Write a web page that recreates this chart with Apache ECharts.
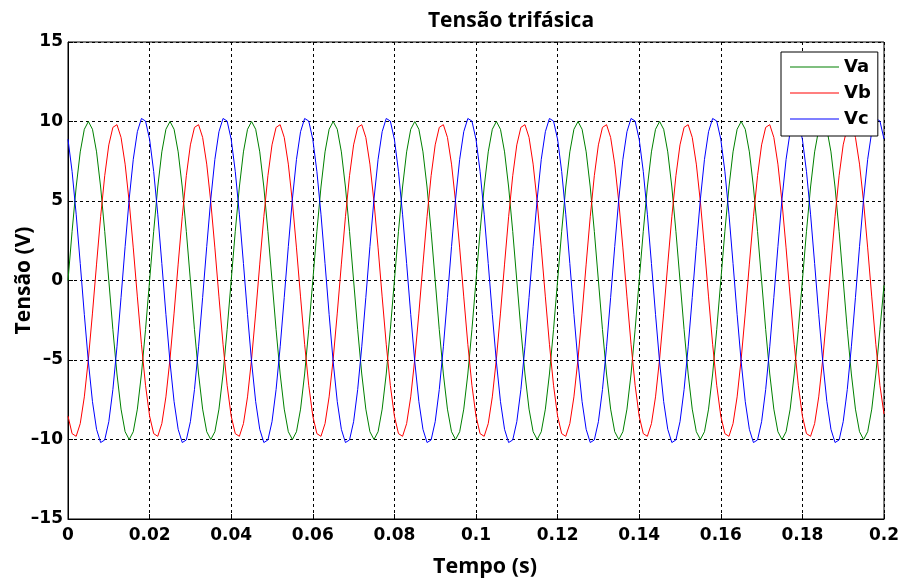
<!DOCTYPE html>
<html>
<head>
<meta charset="utf-8">
<script src="https://cdn.jsdelivr.net/npm/echarts@6/dist/echarts.min.js"></script>
<style>html,body{margin:0;padding:0;background:#fff}#c{width:901px;height:579px}</style>
</head>
<body>
<div id="c"></div>
<script>
const titleText = 'Tensão trifásica';
const xName = 'Tempo (s)';
const yName = 'Tensão (V)';
const seriesNames = ['Va', 'Vb', 'Vc'];
const dt = 0.001; // sample step of the time axis (s)

const Va = [
0,3.09,5.88,8.09,9.51,10,9.51,8.09,5.88,3.09,0,-3.09,-5.88,-8.09,-9.51,-10,-9.51,-8.09,-5.88,-3.09,
0,3.09,5.88,8.09,9.51,10,9.51,8.09,5.88,3.09,0,-3.09,-5.88,-8.09,-9.51,-10,-9.51,-8.09,-5.88,-3.09,
0,3.09,5.88,8.09,9.51,10,9.51,8.09,5.88,3.09,0,-3.09,-5.88,-8.09,-9.51,-10,-9.51,-8.09,-5.88,-3.09,
0,3.09,5.88,8.09,9.51,10,9.51,8.09,5.88,3.09,0,-3.09,-5.88,-8.09,-9.51,-10,-9.51,-8.09,-5.88,-3.09,
0,3.09,5.88,8.09,9.51,10,9.51,8.09,5.88,3.09,0,-3.09,-5.88,-8.09,-9.51,-10,-9.51,-8.09,-5.88,-3.09,
0,3.09,5.88,8.09,9.51,10,9.51,8.09,5.88,3.09,0,-3.09,-5.88,-8.09,-9.51,-10,-9.51,-8.09,-5.88,-3.09,
0,3.09,5.88,8.09,9.51,10,9.51,8.09,5.88,3.09,0,-3.09,-5.88,-8.09,-9.51,-10,-9.51,-8.09,-5.88,-3.09,
0,3.09,5.88,8.09,9.51,10,9.51,8.09,5.88,3.09,0,-3.09,-5.88,-8.09,-9.51,-10,-9.51,-8.09,-5.88,-3.09,
0,3.09,5.88,8.09,9.51,10,9.51,8.09,5.88,3.09,0,-3.09,-5.88,-8.09,-9.51,-10,-9.51,-8.09,-5.88,-3.09,
0,3.09,5.88,8.09,9.51,10,9.51,8.09,5.88,3.09,0,-3.09,-5.88,-8.09,-9.51,-10,-9.51,-8.09,-5.88,-3.09,
-0.3];

const Vb = [
-8.53,-9.63,-9.80,-9.00,-7.32,-4.93,-2.05,1.03,4.01,6.59,8.53,9.63,9.80,9.00,7.32,4.93,2.05,-1.03,-4.01,-6.59,
-8.53,-9.63,-9.80,-9.00,-7.32,-4.93,-2.05,1.03,4.01,6.59,8.53,9.63,9.80,9.00,7.32,4.93,2.05,-1.03,-4.01,-6.59,
-8.53,-9.63,-9.80,-9.00,-7.32,-4.93,-2.05,1.03,4.01,6.59,8.53,9.63,9.80,9.00,7.32,4.93,2.05,-1.03,-4.01,-6.59,
-8.53,-9.63,-9.80,-9.00,-7.32,-4.93,-2.05,1.03,4.01,6.59,8.53,9.63,9.80,9.00,7.32,4.93,2.05,-1.03,-4.01,-6.59,
-8.53,-9.63,-9.80,-9.00,-7.32,-4.93,-2.05,1.03,4.01,6.59,8.53,9.63,9.80,9.00,7.32,4.93,2.05,-1.03,-4.01,-6.59,
-8.53,-9.63,-9.80,-9.00,-7.32,-4.93,-2.05,1.03,4.01,6.59,8.53,9.63,9.80,9.00,7.32,4.93,2.05,-1.03,-4.01,-6.59,
-8.53,-9.63,-9.80,-9.00,-7.32,-4.93,-2.05,1.03,4.01,6.59,8.53,9.63,9.80,9.00,7.32,4.93,2.05,-1.03,-4.01,-6.59,
-8.53,-9.63,-9.80,-9.00,-7.32,-4.93,-2.05,1.03,4.01,6.59,8.53,9.63,9.80,9.00,7.32,4.93,2.05,-1.03,-4.01,-6.59,
-8.53,-9.63,-9.80,-9.00,-7.32,-4.93,-2.05,1.03,4.01,6.59,8.53,9.63,9.80,9.00,7.32,4.93,2.05,-1.03,-4.01,-6.59,
-8.53,-9.63,-9.80,-9.00,-7.32,-4.93,-2.05,1.03,4.01,6.59,8.53,9.63,9.80,9.00,7.32,4.93,2.05,-1.03,-4.01,-6.59,
-8.4];

const Vc = [
8.88,6.86,4.17,1.07,-2.13,-5.13,-7.62,-9.36,-10.19,-10.03,-8.88,-6.86,-4.17,-1.07,2.13,5.13,7.62,9.36,10.19,10.03,
8.88,6.86,4.17,1.07,-2.13,-5.13,-7.62,-9.36,-10.19,-10.03,-8.88,-6.86,-4.17,-1.07,2.13,5.13,7.62,9.36,10.19,10.03,
8.88,6.86,4.17,1.07,-2.13,-5.13,-7.62,-9.36,-10.19,-10.03,-8.88,-6.86,-4.17,-1.07,2.13,5.13,7.62,9.36,10.19,10.03,
8.88,6.86,4.17,1.07,-2.13,-5.13,-7.62,-9.36,-10.19,-10.03,-8.88,-6.86,-4.17,-1.07,2.13,5.13,7.62,9.36,10.19,10.03,
8.88,6.86,4.17,1.07,-2.13,-5.13,-7.62,-9.36,-10.19,-10.03,-8.88,-6.86,-4.17,-1.07,2.13,5.13,7.62,9.36,10.19,10.03,
8.88,6.86,4.17,1.07,-2.13,-5.13,-7.62,-9.36,-10.19,-10.03,-8.88,-6.86,-4.17,-1.07,2.13,5.13,7.62,9.36,10.19,10.03,
8.88,6.86,4.17,1.07,-2.13,-5.13,-7.62,-9.36,-10.19,-10.03,-8.88,-6.86,-4.17,-1.07,2.13,5.13,7.62,9.36,10.19,10.03,
8.88,6.86,4.17,1.07,-2.13,-5.13,-7.62,-9.36,-10.19,-10.03,-8.88,-6.86,-4.17,-1.07,2.13,5.13,7.62,9.36,10.19,10.03,
8.88,6.86,4.17,1.07,-2.13,-5.13,-7.62,-9.36,-10.19,-10.03,-8.88,-6.86,-4.17,-1.07,2.13,5.13,7.62,9.36,10.19,10.03,
8.88,6.86,4.17,1.07,-2.13,-5.13,-7.62,-9.36,-10.19,-10.03,-8.88,-6.86,-4.17,-1.07,2.13,5.13,7.62,9.36,10.19,10.03,
8.9];

const colors = ['#008000', '#ff0000', '#0000ff'];
const seriesData = [Va, Vb, Vc];

function pairs(arr) {
  return arr.map((v, i) => [+(i * dt).toFixed(4), v]);
}

const chart = echarts.init(document.getElementById('c'), null, {renderer: 'canvas'});
const axisLabelStyle = {color: '#000', fontFamily: 'DejaVu Sans, sans-serif', fontWeight: 'bold', fontSize: 17};
const nameFont = 'Open Sans, sans-serif';

chart.setOption({
  animation: false,
  backgroundColor: '#fff',
  title: {
    text: titleText, left: 506, top: 6, textAlign: 'center',
    textStyle: {color: '#000', fontFamily: nameFont, fontWeight: 'bold', fontSize: 21}
  },
  grid: {left: 68, right: 17, top: 42, bottom: 60, containLabel: false, outerBoundsMode: 'none',
    show: true, borderColor: '#000', borderWidth: 1, backgroundColor: '#fff'},
  legend: {
    orient: 'vertical', left: 781, top: 52,
    data: seriesNames,
    backgroundColor: '#fff', borderColor: '#000', borderWidth: 1,
    padding: [6, 7, 8, 9], itemGap: 8, itemWidth: 49, itemHeight: 18,
    textStyle: {color: '#000', fontFamily: 'DejaVu Sans, sans-serif', fontWeight: 'bold', fontSize: 18},
    icon: 'path://M0,9 L49,9 L49,10 L0,10 Z'
  },
  xAxis: {
    type: 'value', min: 0, max: 0.2, interval: 0.02,
    name: xName, nameLocation: 'middle', nameGap: 37,
    nameTextStyle: {color: '#000', fontFamily: nameFont, fontWeight: 'bold', fontSize: 21.5, padding: [0, 0, 0, 18]},
    axisLine: {show: true, onZero: false, lineStyle: {color: '#000', width: 1}},
    axisTick: {show: true, inside: true, length: 5, lineStyle: {color: '#000'}},
    axisLabel: Object.assign({margin: 8, formatter: v => String(+v.toFixed(2))}, axisLabelStyle),
    splitLine: {show: true, lineStyle: {color: '#000', type: [3, 3], width: 1}}
  },
  yAxis: {
    type: 'value', min: -15, max: 15, interval: 5,
    name: yName, nameLocation: 'middle', nameGap: 33, nameMoveOverlap: false,
    nameTextStyle: {color: '#000', fontFamily: nameFont, fontWeight: 'bold', fontSize: 21},
    axisLine: {show: true, onZero: false, lineStyle: {color: '#000', width: 1}},
    axisTick: {show: true, inside: true, length: 5, lineStyle: {color: '#000'}},
    axisLabel: Object.assign({margin: 5, formatter: v => String(v).replace('-', '\u2013')}, axisLabelStyle),
    splitLine: {show: true, lineStyle: {color: '#000', type: [3, 3], width: 1}}
  },
  series: seriesNames.map((n, i) => ({
    name: n, type: 'line', data: pairs(seriesData[i]),
    symbol: 'none', showSymbol: false, smooth: false,
    lineStyle: {color: colors[i], width: 1}, itemStyle: {color: colors[i]},
    z: 3
  }))
});
</script>
</body>
</html>
